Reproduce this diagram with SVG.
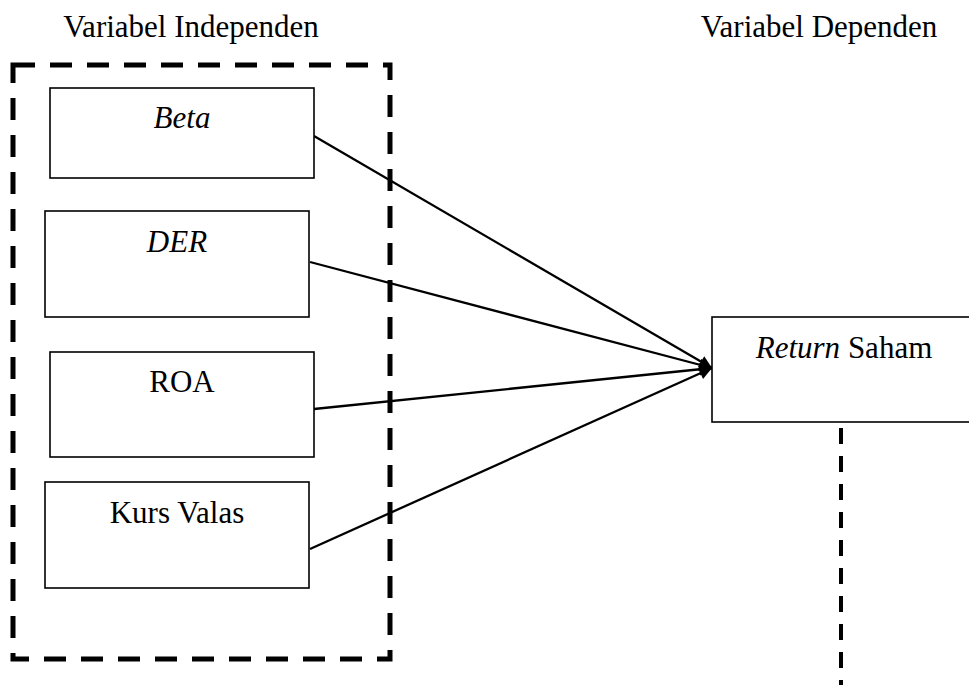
<svg xmlns="http://www.w3.org/2000/svg" width="969" height="685" viewBox="0 0 969 685">
<style>
text{font-family:"Liberation Serif","Times New Roman",serif;font-size:31px;fill:#000;text-anchor:middle}
.it{font-style:italic}
.box{fill:#fff;stroke:#000;stroke-width:1.6}
.edge{stroke:#000;stroke-width:2.3;fill:none;marker-end:url(#ah)}
.dash{fill:none;stroke:#000;stroke-width:5;stroke-dasharray:22 15}
</style>
<defs>
<marker id="ah" viewBox="0 0 10 10" refX="10" refY="5" markerWidth="6.5" markerHeight="5.5" markerUnits="strokeWidth" orient="auto">
<path d="M0,0 L10,5 L0,10 z" fill="#000"/>
</marker>
</defs>
<rect width="969" height="685" fill="#fff"/>
<text x="191" y="37">Variabel Independen</text>
<text x="819" y="37">Variabel Dependen</text>
<rect class="dash" x="13" y="65" width="377" height="594"/>
<line x1="841" y1="428" x2="841" y2="685" stroke="#000" stroke-width="4" stroke-dasharray="16 12"/>
<g id="connectors">
<line class="edge" x1="314" y1="136" x2="712" y2="368"/>
<line class="edge" x1="310" y1="262" x2="712" y2="368"/>
<line class="edge" x1="314" y1="409" x2="712" y2="368"/>
<line class="edge" x1="310" y1="549" x2="712" y2="368"/>
</g>
<g id="beta">
<rect class="box" x="50" y="88" width="264" height="90"/>
<text class="it" x="182" y="128">Beta</text>
</g>
<g id="der">
<rect class="box" x="45" y="211" width="264" height="106"/>
<text class="it" x="177" y="252">DER</text>
</g>
<g id="roa">
<rect class="box" x="50" y="352" width="264" height="105"/>
<text x="182" y="392">ROA</text>
</g>
<g id="kurs">
<rect class="box" x="45" y="482" width="264" height="106"/>
<text x="177" y="523">Kurs Valas</text>
</g>
<g id="return">
<rect class="box" x="712" y="317" width="264" height="105"/>
<text x="844" y="358"><tspan class="it">Return</tspan> Saham</text>
</g>
</svg>
